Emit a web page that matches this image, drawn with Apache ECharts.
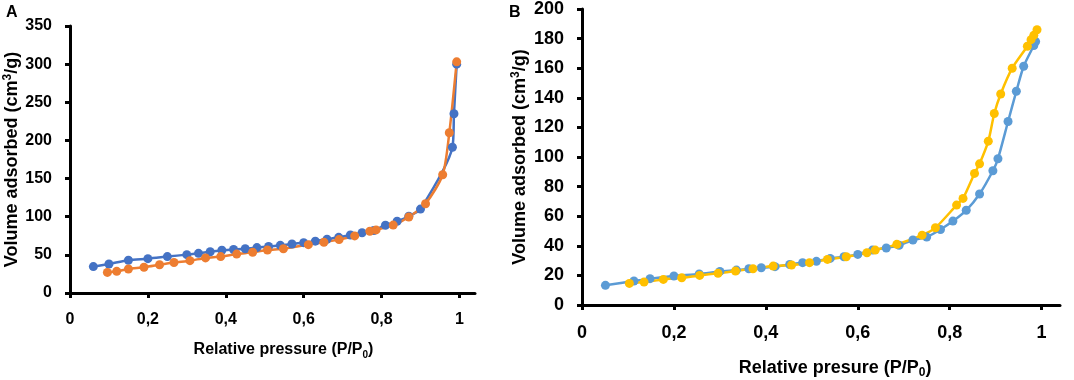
<!DOCTYPE html>
<html>
<head>
<meta charset="utf-8">
<script src="https://cdn.jsdelivr.net/npm/echarts@6/dist/echarts.min.js"></script>
<style>
  html, body { margin: 0; padding: 0; background: #fff; }
  #box { width: 1074px; height: 380px; }
</style>
</head>
<body>
<div id="box"></div>
<script>
// panel A
var aBlueP = [0.06, 0.10, 0.15, 0.20, 0.25, 0.30, 0.33, 0.36, 0.39, 0.42, 0.45, 0.48, 0.51, 0.54, 0.57, 0.60, 0.63, 0.66, 0.69, 0.72, 0.75, 0.78, 0.81, 0.84, 0.87, 0.90, 0.982, 0.986, 0.993];
var aBlueV = [34.6, 38, 43, 45, 47.7, 50.3, 52, 54, 56, 57, 58, 59.5, 61, 62.5, 64.3, 66, 68, 70.4, 73, 76, 79, 82, 88.8, 94, 100.6, 110, 191, 235, 300];
var aOrangeP = [0.096, 0.12, 0.15, 0.19, 0.23, 0.267, 0.308, 0.348, 0.387, 0.428, 0.469, 0.507, 0.548, 0.612, 0.652, 0.691, 0.731, 0.77, 0.786, 0.83, 0.87, 0.913, 0.957, 0.974, 0.993];
var aOrangeV = [27, 28.4, 31.5, 33.7, 37, 40, 42.4, 46, 47.7, 51, 53.4, 56.4, 58, 63.4, 66.5, 70, 74.8, 81, 82.7, 89, 99.7, 117, 155, 210, 303];

// panel B
var bBlueP = [0.051, 0.113, 0.148, 0.20, 0.255, 0.30, 0.336, 0.363, 0.39, 0.42, 0.452, 0.48, 0.51, 0.54, 0.57, 0.60, 0.632, 0.662, 0.69, 0.72, 0.75, 0.78, 0.807, 0.836, 0.865, 0.894, 0.905, 0.927, 0.945, 0.961, 0.983, 0.987];
var bBlueV = [13.3, 16.2, 17.8, 19.6, 21, 22.7, 23.6, 24.5, 25.2, 25.9, 27.4, 28.6, 29.5, 31.5, 32.6, 34.2, 37.1, 38.5, 40.3, 43.9, 45.9, 51, 56.7, 64, 75, 90.7, 98.8, 124, 144.4, 161.3, 175.3, 178];
var bYellowP = [0.103, 0.135, 0.177, 0.217, 0.256, 0.296, 0.334, 0.372, 0.416, 0.456, 0.495, 0.534, 0.575, 0.62, 0.638, 0.685, 0.74, 0.769, 0.815, 0.829, 0.854, 0.865, 0.884, 0.897, 0.911, 0.936, 0.969, 0.977, 0.983, 0.99];
var bYellowV = [14.6, 15.5, 17.3, 18.4, 20, 21.4, 23, 24.5, 26.3, 27, 28.6, 30.8, 32.6, 35.3, 37.1, 41, 47.2, 52.2, 67.5, 72, 88.9, 95.4, 110.7, 129.4, 142.6, 160, 174.8, 179.3, 182.2, 186];

var xTicks = [0, 0.2, 0.4, 0.6, 0.8, 1];

function zip(xs, ys) {
    return xs.map(function (x, i) { return [x, ys[i]]; });
}

var FONT = "'Liberation Sans', Arial, sans-serif";

function xAxisOf(idx, size, titleSize, gap, shift, label) {
    return {
        type: 'value',
        gridIndex: idx,
        min: 0,
        max: 1.04,
        splitLine: { show: false },
        axisLine: { lineStyle: { color: '#000', width: 3 } },
        axisTick: { show: true, length: 5, customValues: xTicks, lineStyle: { color: '#000', width: 3 } },
        axisLabel: {
            customValues: xTicks,
            margin: 19,
            color: '#000',
            fontFamily: FONT,
            fontWeight: 'bold',
            fontSize: size,
            formatter: function (v) { return String(v).replace('.', ','); }
        },
        name: '{a|' + label + ' (P/P}{s|0}{a|)}',
        nameLocation: 'middle',
        nameGap: gap,
        nameTextStyle: {
            padding: [0, 0, 0, shift],
            rich: {
                a: { fontFamily: FONT, fontWeight: 'bold', fontSize: titleSize, color: '#000', lineHeight: titleSize + 4 },
                s: { fontFamily: FONT, fontWeight: 'bold', fontSize: Math.round(titleSize * 0.65), color: '#000', verticalAlign: 'bottom', lineHeight: titleSize + 4 }
            }
        }
    };
}

function yAxisOf(idx, max, step, size, titleSize, gap) {
    return {
        type: 'value',
        gridIndex: idx,
        min: 0,
        max: max,
        interval: step,
        splitLine: { show: false },
        axisLine: { show: true, lineStyle: { color: '#000', width: 3 } },
        axisTick: { show: true, length: 5, lineStyle: { color: '#000', width: 3 } },
        axisLabel: {
            margin: 18,
            color: '#000',
            fontFamily: FONT,
            fontWeight: 'bold',
            fontSize: size
        },
        name: '{a|Volume adsorbed (cm}{s|3}{a|/g)}',
        nameLocation: 'middle',
        nameRotate: 90,
        nameGap: gap,
        nameTextStyle: {
            rich: {
                a: { fontFamily: FONT, fontWeight: 'bold', fontSize: titleSize, color: '#000', lineHeight: titleSize + 2 },
                s: { fontFamily: FONT, fontWeight: 'bold', fontSize: Math.round(titleSize * 0.65), color: '#000', verticalAlign: 'top', lineHeight: titleSize + 2 }
            }
        }
    };
}

function lineOf(name, xi, data, color) {
    return {
        name: name,
        type: 'line',
        xAxisIndex: xi,
        yAxisIndex: xi,
        data: data,
        smooth: 0.25,
        symbol: 'circle',
        symbolSize: 9,
        lineStyle: { color: color, width: 2.5 },
        itemStyle: { color: color },
        animation: false
    };
}

var chart = echarts.init(document.getElementById('box'));
chart.setOption({
    backgroundColor: '#fff',
    animation: false,
    title: [
        { text: 'A', left: 6, top: 5, padding: 0, textStyle: { fontFamily: FONT, fontWeight: 'bold', fontSize: 16, color: '#000' } },
        { text: 'B', left: 509, top: 5, padding: 0, textStyle: { fontFamily: FONT, fontWeight: 'bold', fontSize: 16, color: '#000' } }
    ],
    grid: [
        { left: 70, top: 26, width: 405, height: 267, outerBoundsMode: 'none' },
        { left: 582, top: 9, width: 478, height: 296, outerBoundsMode: 'none' }
    ],
    xAxis: [
        xAxisOf(0, 16, 16, 47, 22, 'Relative pressure'),
        xAxisOf(1, 18, 18, 52, 28, 'Relative presure')
    ],
    yAxis: [
        yAxisOf(0, 350, 50, 16, 18, 48),
        yAxisOf(1, 200, 20, 18, 18, 52)
    ],
    series: [
        lineOf('A blue', 0, zip(aBlueP, aBlueV), '#4472C4'),
        lineOf('A orange', 0, zip(aOrangeP, aOrangeV), '#ED7D31'),
        lineOf('B blue', 1, zip(bBlueP, bBlueV), '#5B9BD5'),
        lineOf('B yellow', 1, zip(bYellowP, bYellowV), '#FFC000')
    ]
});
</script>
</body>
</html>
